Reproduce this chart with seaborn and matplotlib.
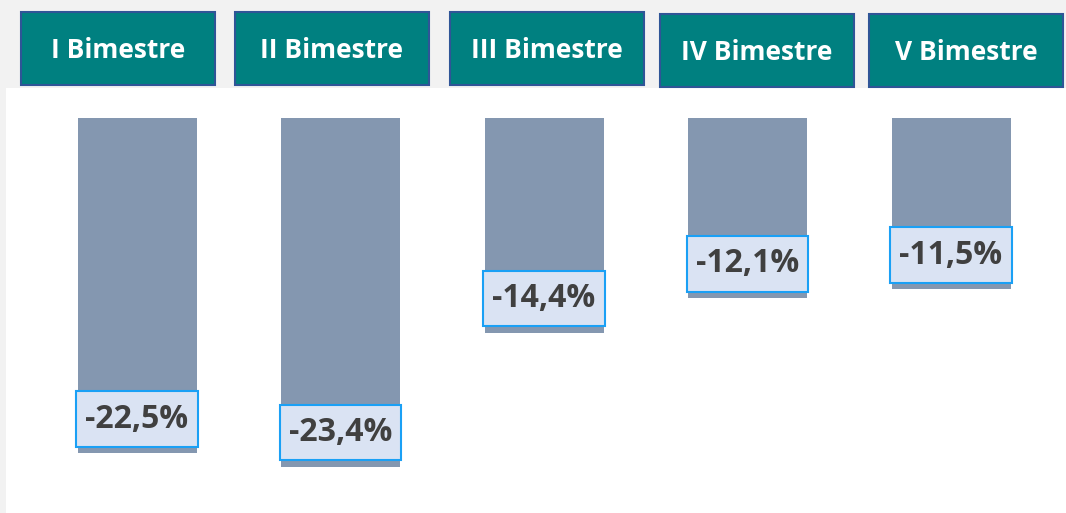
import numpy as np
import pandas as pd
import matplotlib
matplotlib.use('Agg')
import matplotlib.pyplot as plt
from matplotlib.patches import Rectangle
import seaborn as sns

# dados
bimestres = ['I Bimestre', 'II Bimestre', 'III Bimestre', 'IV Bimestre', 'V Bimestre']
variacao = [-22.5, -23.4, -14.4, -12.1, -11.5]
rotulos = ['-22,5%', '-23,4%', '-14,4%', '-12,1%', '-11,5%']

df = pd.DataFrame({'bimestre': bimestres, 'variacao': variacao})

sns.set_style('white')
plt.rcParams['font.family'] = ['Open Sans', 'DejaVu Sans']

fig = plt.figure(figsize=(10.66, 5.13), dpi=100)
fig.patch.set_facecolor('#f2f2f2')

# painel branco com as barras
ax = fig.add_axes([6 / 1066, 0, 1060 / 1066, 425 / 513])
ax.set_facecolor('white')
sns.barplot(data=df, x='bimestre', y='variacao', color='#8497b0',
            width=0.585, saturation=1, linewidth=0, ax=ax)
ax.set_xlim(-0.644, 4.565)
ax.set_ylim(-26.5, 2.0)
ax.set_xticks([])
ax.set_yticks([])
ax.set_xlabel('')
ax.set_ylabel('')
for s in ax.spines.values():
    s.set_visible(False)

# caixas de rotulo
for i, (v, txt) in enumerate(zip(variacao, rotulos)):
    base = v + 0.45
    ax.add_patch(Rectangle((i - 0.298, base), 0.596, 3.7, facecolor='#dae3f3',
                           edgecolor='#1aa0f5', linewidth=1.5, zorder=3))
    ax.text(i, base + 1.85, txt, ha='center', va='center', fontsize=23,
            fontweight='bold', color='#404040', zorder=4)

# cabecalhos
headers = [(21, 12), (235, 12), (450, 12), (660, 14), (869, 14)]
for (x0, y0), nome in zip(headers, bimestres):
    fig.add_artist(Rectangle((x0 / 1066, 1 - (y0 + 73) / 513), 194 / 1066, 73 / 513,
                             transform=fig.transFigure, facecolor='#008080',
                             edgecolor='#2f5597', linewidth=1.5))
    fig.text((x0 + 97) / 1066, 1 - (y0 + 39) / 513, nome, ha='center', va='center',
             fontsize=19, fontweight='bold', color='white')

plt.savefig('out.png', dpi=100, facecolor=fig.get_facecolor())
